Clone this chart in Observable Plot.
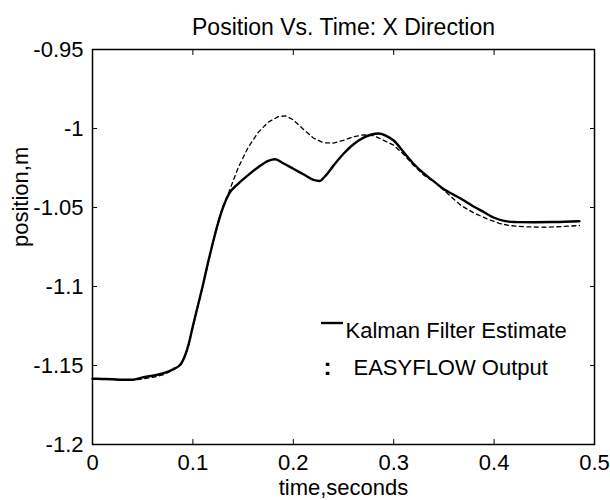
<!DOCTYPE html>
<html><head><meta charset="utf-8">
<script src="https://cdn.jsdelivr.net/npm/d3@7"></script>
<script src="https://cdn.jsdelivr.net/npm/@observablehq/plot@0.6"></script>
<style>
body{margin:0;background:#fff}
svg{font-family:"Liberation Sans",Arial,Helvetica,sans-serif}
</style>
</head><body><div id="chart"></div>
<script>
const chartTitle = "Position Vs. Time: X Direction";
const xLabel = "time,seconds";
const yLabel = "position,m";
const seriesNames = ["Kalman Filter Estimate", "EASYFLOW Output"];
const xTicks = [0, 0.1, 0.2, 0.3, 0.4, 0.5];
const yTicks = [-1.2, -1.15, -1.1, -1.05, -1, -0.95];

const kalmanT = [0.000,0.010,0.020,0.030,0.040,0.050,0.060,0.070,0.080,0.088,0.092,0.096,0.100,0.105,0.110,0.115,0.120,0.125,0.130,0.136,0.145,0.155,0.165,0.175,0.182,0.190,0.200,0.210,0.220,0.226,0.232,0.240,0.250,0.260,0.270,0.278,0.285,0.293,0.300,0.310,0.320,0.330,0.340,0.350,0.360,0.370,0.380,0.390,0.400,0.410,0.420,0.440,0.460,0.485];
const kalmanV = [-1.1584,-1.1585,-1.1587,-1.1590,-1.1590,-1.1575,-1.1565,-1.1550,-1.1525,-1.1490,-1.1440,-1.1360,-1.1250,-1.1120,-1.0990,-1.0850,-1.0720,-1.0600,-1.0500,-1.0413,-1.0350,-1.0295,-1.0245,-1.0205,-1.0195,-1.0220,-1.0255,-1.0290,-1.0325,-1.0332,-1.0300,-1.0235,-1.0160,-1.0100,-1.0058,-1.0038,-1.0032,-1.0048,-1.0076,-1.0150,-1.0225,-1.0285,-1.0335,-1.0385,-1.0420,-1.0456,-1.0495,-1.0530,-1.0565,-1.0585,-1.0592,-1.0593,-1.0592,-1.0587];

const easyT = [0.000,0.010,0.020,0.030,0.040,0.050,0.060,0.070,0.080,0.088,0.092,0.096,0.100,0.105,0.110,0.115,0.120,0.125,0.130,0.136,0.145,0.155,0.165,0.175,0.185,0.192,0.200,0.210,0.220,0.230,0.240,0.250,0.260,0.270,0.280,0.290,0.300,0.310,0.320,0.330,0.343,0.355,0.367,0.380,0.393,0.405,0.415,0.430,0.450,0.470,0.485];
const easyV = [-1.1584,-1.1586,-1.1588,-1.1592,-1.1593,-1.1585,-1.1575,-1.1560,-1.1530,-1.1495,-1.1445,-1.1365,-1.1255,-1.1125,-1.0995,-1.0855,-1.0720,-1.0595,-1.0490,-1.0400,-1.0250,-1.0120,-1.0025,-0.9960,-0.9925,-0.9920,-0.9945,-1.0005,-1.0060,-1.0090,-1.0092,-1.0075,-1.0052,-1.0040,-1.0045,-1.0075,-1.0105,-1.0165,-1.0234,-1.0295,-1.0350,-1.0420,-1.0487,-1.0535,-1.0572,-1.0600,-1.0614,-1.0622,-1.0625,-1.0620,-1.0614];

const kalman = kalmanT.map((t, i) => ({t, v: kalmanV[i]}));
const easy = easyT.map((t, i) => ({t, v: easyV[i]}));

const W = 610, H = 500;
const mL = 92, mR = 16, mT = 49, mB = 56;
const fmt = d => String(d);

const plot = Plot.plot({
  width: W, height: H,
  marginLeft: mL, marginRight: mR, marginTop: mT, marginBottom: mB,
  style: {fontSize: "22px", fontFamily: '"Liberation Sans",Arial,Helvetica,sans-serif', color: "#000", background: "#fff", overflow: "visible"},
  x: {domain: [0, 0.5]},
  y: {domain: [-1.2, -0.95]},
  marks: [
    Plot.frame({stroke: "#000", strokeWidth: 1.5}),
    Plot.axisX({anchor: "bottom", ticks: xTicks, tickFormat: fmt, tickSize: 0, tickPadding: 10, label: null}),
    Plot.axisX({anchor: "bottom", ticks: xTicks, tickFormat: () => "", tickSize: -5, label: null}),
    Plot.axisX({anchor: "top", ticks: xTicks, tickFormat: () => "", tickSize: -5, label: null}),
    Plot.axisY({anchor: "left", ticks: yTicks, tickFormat: fmt, tickSize: 0, tickPadding: 9, label: null}),
    Plot.axisY({anchor: "left", ticks: yTicks, tickFormat: () => "", tickSize: -5, label: null}),
    Plot.axisY({anchor: "right", ticks: yTicks, tickFormat: () => "", tickSize: -5, label: null}),
    Plot.line(easy, {x: "t", y: "v", stroke: "#000", strokeWidth: 1.3, strokeDasharray: "4,3.5"}),
    Plot.line(kalman, {x: "t", y: "v", stroke: "#000", strokeWidth: 2.4, curve: "monotone-x"}),
    Plot.text([chartTitle], {frameAnchor: "top", dy: -31, fontSize: 23}),
    Plot.text([xLabel], {frameAnchor: "bottom", dy: 50, fontSize: 22}),
    Plot.text([yLabel], {frameAnchor: "left", dx: -72, rotate: -90, fontSize: 22}),
    Plot.text([seriesNames[0]], {frameAnchor: "top-left", dx: 253, dy: 273, textAnchor: "start", fontSize: 22}),
    Plot.text([seriesNames[1]], {frameAnchor: "top-left", dx: 261, dy: 310, textAnchor: "start", fontSize: 22}),
    Plot.text([":"], {frameAnchor: "top-left", dx: 231, dy: 308, fontSize: 24, fontWeight: "bold"})
  ]
});
const svg = d3.select(plot);
svg.append("line").attr("x1", 321).attr("x2", 343).attr("y1", 323).attr("y2", 323)
  .attr("stroke", "#000").attr("stroke-width", 2.4);
document.getElementById("chart").appendChild(plot);
</script>
</body></html>
